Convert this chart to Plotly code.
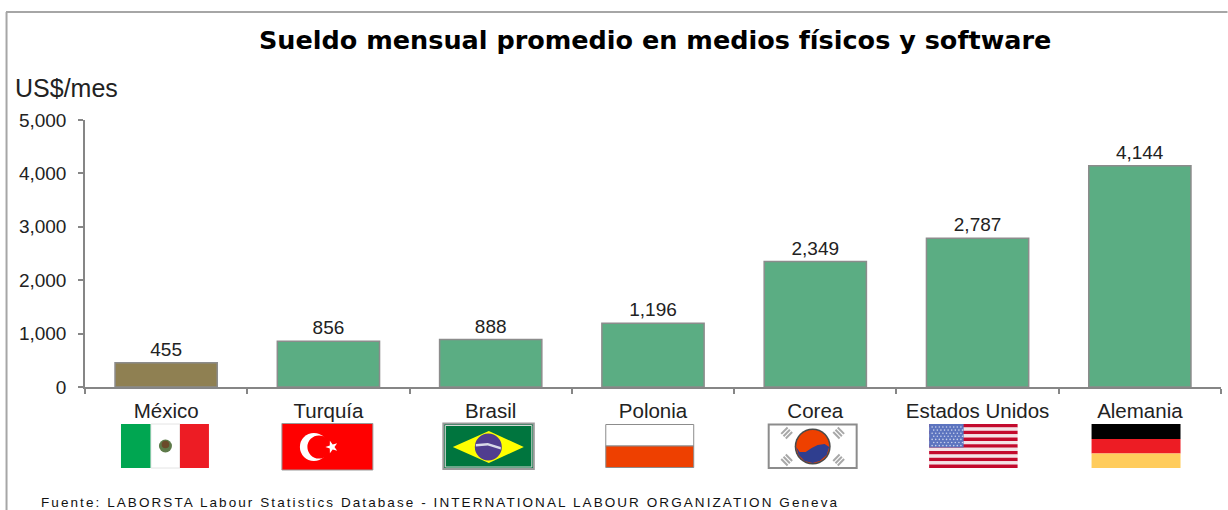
import math
import plotly.graph_objects as go

categories = ["México", "Turquía", "Brasil", "Polonia", "Corea", "Estados Unidos", "Alemania"]
values = [455, 856, 888, 1196, 2349, 2787, 4144]
bar_colors = ["#8F8052", "#5BAD83", "#5BAD83", "#5BAD83", "#5BAD83", "#5BAD83", "#5BAD83"]
y_ticks = [0, 1000, 2000, 3000, 4000, 5000]
title_text = "Sueldo mensual promedio en medios físicos y software"
unit_text = "US$/mes"
source_text = "Fuente: LABORSTA Labour Statistics Database - INTERNATIONAL LABOUR ORGANIZATION Geneva"

W, H = 1228, 510
L, R, T, B = 85, 1221.5, 120, 387
FONT = "Liberation Sans"
AXIS = "#868686"


def px(x):
    return (x - L) / (R - L)


def py(y):
    return (B - y) / (B - T)


shapes = []


def rect(x0, y0, x1, y1, fill, line=None, lw=1):
    shapes.append(dict(type="rect", xref="paper", yref="paper", x0=px(x0), x1=px(x1), y0=py(y0), y1=py(y1),
                       fillcolor=fill, line=dict(color=line or fill, width=lw if line else 0), layer="above"))


def circle(cx, cy, r, fill, line=None, lw=1):
    shapes.append(dict(type="circle", xref="paper", yref="paper", x0=px(cx - r), x1=px(cx + r), y0=py(cy - r), y1=py(cy + r),
                       fillcolor=fill, line=dict(color=line or fill, width=lw if line else 0), layer="above"))


def poly(points, fill):
    d = "M " + " L ".join(f"{px(a):.5f},{py(b):.5f}" for a, b in points) + " Z"
    shapes.append(dict(type="path", xref="paper", yref="paper", path=d, fillcolor=fill, line=dict(width=0), layer="above"))


# chart frame: left and top rules
shapes.append(dict(type="line", xref="paper", yref="paper", x0=px(6.5), x1=px(6.5), y0=py(12), y1=py(510), line=dict(color="#A6A6A6", width=2), layer="below"))
shapes.append(dict(type="line", xref="paper", yref="paper", x0=px(6), x1=px(1228), y0=py(12), y1=py(12), line=dict(color="#A6A6A6", width=2), layer="below"))

# México
rect(121, 424, 151, 468, "#00A651")
rect(151, 424, 180, 468, "#FFFFFF", "#E4E4E4")
rect(180, 424, 209, 468, "#ED1C24")
circle(165.5, 446, 6.5, "#5E7A4A")
circle(165.5, 444.5, 3.8, "#6B4A2A")

# Turquía
rect(282, 423.5, 373, 470, "#FF0000", "#999999", 1)
circle(314, 447, 14, "#FFFFFF")
circle(319, 447, 11.5, "#FF0000")
star = []
for i in range(10):
    r = 6.5 if i % 2 == 0 else 2.6
    a = math.radians(180 + 36 * i)
    star.append((332 + r * math.cos(a), 447 + r * math.sin(a)))
poly(star, "#FFFFFF")

# Brasil
rect(443.5, 423.5, 534, 469, "#00753E", "#9A9A9A", 2)
rect(445.5, 425.5, 532, 467, "rgba(0,0,0,0)", "#D8D8D8", 1)
poly([(453, 447), (489, 431), (524, 447), (489, 463)], "#FFFF00")
circle(488.5, 447, 13.5, "#503D8F")
poly([(476, 444), (488, 443), (501, 447), (501, 449.5), (488, 445.5), (476, 446.5)], "#D8D8E8")

# Polonia
rect(606, 424.5, 694, 446, "#FFFFFF", "#8C8C8C", 1)
rect(606, 446, 694, 467.5, "#EE4000", "#8C8C8C", 1)

# Corea
rect(769, 424.5, 857, 468, "#FFFFFF", "#8C8C8C", 2)
circle(813, 446.5, 18, "#4A4A4A")
circle(813, 446.5, 16.5, "#EE4000")
wave = [(796.5, 447), (800, 452), (806, 452), (812, 448), (818, 445), (825, 444), (829.5, 447),
        (827, 455), (820, 461), (813, 463), (805, 461), (799, 455)]
poly(wave, "#2F3E8F")
for cx, cy in [(787, 433), (839, 433), (787, 460), (839, 460)]:
    ux, uy = (1 if cx > 813 else -1) * 0.707, (1 if cy > 446 else -1) * 0.707
    vx, vy = -uy, ux
    for off in (-3.2, 0, 3.2):
        mx, my = cx + ux * off, cy + uy * off
        poly([(mx + vx * 4.5 + ux, my + vy * 4.5 + uy), (mx - vx * 4.5 + ux, my - vy * 4.5 + uy),
              (mx - vx * 4.5 - ux, my - vy * 4.5 - uy), (mx + vx * 4.5 - ux, my + vy * 4.5 - uy)], "#A8A8A8")

# Estados Unidos
stripe_h = 44 / 13
for i in range(13):
    rect(929.5, 424 + i * stripe_h, 1018, 424 + (i + 1) * stripe_h, "#C30A2D" if i % 2 == 0 else "#F3E3E6")
rect(929.5, 424, 964, 447.5, "#5C74BF")
for row in range(7):
    for col in range(9):
        circle(932.5 + col * 3.6 + (row % 2) * 1.6, 427 + row * 3.1, 0.8, "#C9D2EC")

# Alemania
rect(1092, 424, 1181, 439, "#000000")
rect(1092, 439, 1181, 453.5, "#ED1C24")
rect(1092, 453.5, 1181, 468, "#FFCC5C")

annotations = [
    dict(text=title_text, xref="paper", yref="paper", x=px(655), y=py(40), xanchor="center", yanchor="middle",
         showarrow=False, font=dict(family="DejaVu Sans", size=25.5, color="#000000", weight="bold")),
    dict(text=unit_text, xref="paper", yref="paper", x=px(13), y=py(88), xanchor="left", yanchor="middle",
         showarrow=False, font=dict(family=FONT, size=25, color="#222222")),
    dict(text=source_text, xref="paper", yref="paper", x=px(39), y=py(502.5), xanchor="left", yanchor="middle",
         showarrow=False, font=dict(family=FONT, size=13.5, color="#111111")),
]

fig = go.Figure(go.Bar(
    x=categories, y=values,
    marker=dict(color=bar_colors, line=dict(color="#8C8C8C", width=1.5)),
    width=0.63,
    text=[f"{v:,}" for v in values], textposition="outside", cliponaxis=False,
    textfont=dict(family=FONT, size=19, color="#222222"),
))
fig.update_layout(
    width=W, height=H, autosize=False,
    margin=dict(l=L, r=W - R, t=T, b=H - B),
    paper_bgcolor="#FFFFFF", plot_bgcolor="#FFFFFF",
    showlegend=False, shapes=shapes, annotations=annotations,
    font=dict(family=FONT, color="#222222"),
)
fig.update_xaxes(type="category", tickson="boundaries", ticks="outside", ticklen=5, tickwidth=1.5, tickcolor=AXIS,
                 showline=True, linecolor=AXIS, linewidth=1.5, showgrid=False, ticklabelstandoff=5,
                 tickfont=dict(family=FONT, size=20.5, color="#222222"), tickangle=0)
fig.update_yaxes(range=[0, 5000], tickvals=y_ticks, tickformat=",", ticks="outside", ticklen=5, tickwidth=1.5, tickcolor=AXIS,
                 showline=True, linecolor=AXIS, linewidth=1.5, showgrid=False, zeroline=False,
                 ticklabelstandoff=8, tickfont=dict(family=FONT, size=19, color="#222222"))

post = """
document.body.style.margin='0';document.body.style.overflow='hidden';
function spaceSource(){
  document.querySelectorAll('.annotation-text').forEach(function(t){
    if(t.textContent.indexOf('Fuente')===0 && !t.dataset.spaced){
      var before=t.getBoundingClientRect().left;
      t.style.letterSpacing='2.08px';
      var after=t.getBoundingClientRect().left;
      t.setAttribute('x',parseFloat(t.getAttribute('x'))+(before-after));
      t.dataset.spaced='1';
    }
  });
}
spaceSource();setTimeout(spaceSource,30);setTimeout(spaceSource,200);
"""
fig.write_html("out.html", config=dict(displayModeBar=False), post_script=post)
